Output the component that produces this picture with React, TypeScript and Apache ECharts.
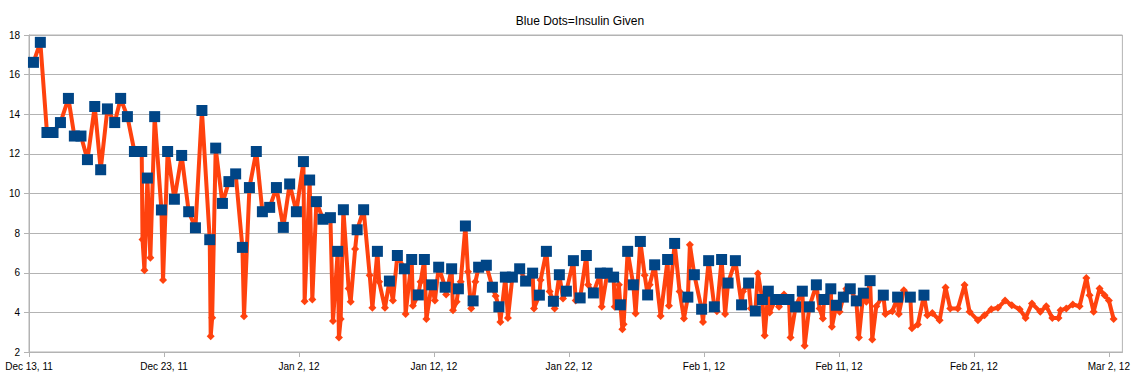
import React, { useEffect, useRef } from "react";
import * as echarts from "echarts";

// Days after Dec 13, 2011 (00:00) for each reading
const dayOffset = [
  0.33, 0.84, 1.33, 1.78, 2.33, 2.92, 3.36, 3.85, 4.33, 4.87,
  5.31, 5.81, 6.35, 6.79, 7.29, 7.81, 8.35, 8.41, 8.55, 8.77,
  8.99, 9.31, 9.81, 9.93, 10.27, 10.77, 11.31, 11.83, 12.33, 12.81,
  13.39, 13.46, 13.57, 13.83, 14.33, 14.81, 15.31, 15.81, 15.93, 16.33,
  16.84, 17.29, 17.83, 18.33, 18.84, 19.31, 19.81, 20.33, 20.42, 20.79,
  20.99, 21.29, 21.78, 22.33, 22.52, 22.87, 22.96, 23.09, 23.29, 23.68,
  23.83, 24.16, 24.31, 24.79, 25.24, 25.44, 25.81, 25.94, 26.37, 26.7,
  26.96, 27.29, 27.81, 27.9, 28.35, 28.44, 28.84, 29.01, 29.29, 29.44,
  29.83, 30.07, 30.35, 30.83, 30.9, 31.31, 31.41, 31.68, 31.81, 31.98,
  32.33, 32.52, 32.76, 32.9, 33.07, 33.31, 33.88, 34.33, 34.57, 34.81,
  34.92, 35.29, 35.48, 35.81, 36.35, 36.79, 37.31, 37.41, 37.81, 37.9,
  38.33, 38.57, 38.85, 38.94, 39.29, 39.56, 39.81, 40.33, 40.5, 40.83,
  41.29, 41.42, 41.81, 42.33, 42.43, 42.84, 43.31, 43.39, 43.7, 43.81,
  43.96, 44.05, 44.35, 44.77, 44.94, 45.29, 45.61, 45.83, 45.98, 46.35,
  46.79, 47.31, 47.41, 47.83, 48.2, 48.52, 48.81, 48.96, 49.29, 49.83,
  49.93, 50.35, 50.77, 50.96, 51.31, 51.57, 51.79, 52.33, 52.79, 52.89,
  53.31, 53.48, 53.81, 54.0, 54.33, 54.5, 54.77, 54.87, 55.31, 55.56,
  55.78, 55.93, 56.3, 56.42, 56.79, 57.29, 57.46, 57.81, 58.33, 58.57,
  58.81, 58.9, 59.4, 59.48, 59.81, 60.05, 60.33, 60.55, 60.84, 61.29,
  61.48, 61.81, 62.03, 62.31, 62.47, 62.77, 63.29, 63.44, 63.96, 64.35,
  64.44, 64.81, 65.29, 65.41, 65.85, 66.3, 66.55, 66.92, 67.46, 67.9,
  68.25, 68.81, 69.31, 69.68, 70.3, 70.79, 71.29, 71.78, 72.31, 72.81,
  73.39, 73.83, 74.3, 74.92, 75.36, 75.81, 76.27, 76.42, 76.84, 77.33,
  77.83, 78.33, 78.57, 78.87, 79.31, 79.68, 80.0, 80.35,
];

// Blood glucose readings
const glucose = [
  16.62, 17.63, 13.08, 13.08, 13.58, 14.8, 12.9, 12.9, 11.71, 14.39,
  11.2, 14.27, 13.58, 14.8, 13.88, 12.12, 12.12, 7.68, 6.13, 10.78,
  6.76, 13.88, 9.17, 5.63, 12.12, 9.71, 11.92, 9.08, 8.27, 14.19,
  7.67, 2.79, 3.73, 12.29, 9.5, 10.6, 10.99, 7.28, 3.81, 10.3,
  12.12, 9.08, 9.3, 10.3, 8.29, 10.48, 9.08, 11.61, 4.56, 10.68,
  4.65, 9.59, 8.7, 8.78, 3.56, 7.08, 2.73, 3.66, 9.18, 5.2,
  4.53, 7.2, 8.17, 9.18, 5.88, 4.23, 7.08, 5.54, 4.23, 5.58,
  4.6, 6.87, 6.2, 3.92, 6.67, 4.33, 4.88, 5.54, 6.67, 3.66,
  5.39, 4.6, 6.28, 5.27, 4.9, 6.2, 4.11, 4.53, 5.19, 5.54,
  8.36, 6.05, 4.19, 4.58, 5.54, 6.28, 6.38, 5.27, 4.83, 4.28,
  3.52, 5.78, 3.72, 5.78, 6.2, 5.58, 5.98, 4.19, 4.87, 5.63,
  7.08, 5.05, 4.56, 4.19, 5.9, 4.7, 5.07, 6.61, 4.6, 4.73,
  6.87, 5.39, 4.98, 5.98, 4.28, 5.98, 5.78, 4.28, 5.39, 4.38,
  3.15, 3.4, 7.08, 5.39, 3.94, 7.58, 5.88, 4.88, 5.39, 6.4,
  3.82, 6.67, 4.33, 7.48, 5.05, 3.69, 4.77, 7.41, 5.9, 4.16,
  3.52, 6.61, 4.28, 4.06, 6.67, 3.92, 5.48, 6.61, 4.38, 5.05,
  5.48, 4.19, 4.07, 5.96, 4.65, 2.83, 5.07, 4.0, 4.65, 4.28,
  4.65, 4.9, 4.65, 2.73, 4.28, 5.07, 2.31, 4.28, 5.39, 4.2,
  3.69, 4.65, 5.19, 3.27, 4.36, 4.03, 4.77, 5.19, 5.19, 4.58,
  2.73, 4.97, 4.53, 5.6, 2.63, 4.31, 4.87, 3.92, 4.06, 4.77,
  3.92, 5.12, 4.77, 3.2, 3.39, 4.87, 3.86, 3.97, 3.6, 5.26,
  4.19, 4.19, 5.38, 4.03, 3.6, 3.86, 4.16, 4.23, 4.6, 4.36,
  4.16, 3.72, 4.45, 4.03, 4.31, 3.72, 3.72, 4.11, 4.19, 4.4,
  4.31, 5.74, 4.87, 4.03, 5.2, 4.87, 4.6, 3.66,
];

// 1 = insulin given at this reading (blue dot)
const insulinGiven = [
  1, 1, 1, 1, 1, 1, 1, 1, 1, 1,
  1, 1, 1, 1, 1, 1, 1, 0, 0, 1,
  0, 1, 1, 0, 1, 1, 1, 1, 1, 1,
  1, 0, 0, 1, 1, 1, 1, 1, 0, 1,
  1, 1, 1, 1, 1, 1, 1, 1, 0, 1,
  0, 1, 1, 1, 0, 1, 0, 0, 1, 0,
  0, 0, 1, 1, 0, 0, 1, 0, 0, 1,
  0, 1, 1, 0, 1, 0, 1, 0, 1, 0,
  1, 0, 1, 1, 0, 1, 0, 0, 1, 0,
  1, 0, 0, 1, 0, 1, 1, 1, 0, 1,
  0, 1, 0, 1, 1, 1, 1, 0, 1, 0,
  1, 0, 1, 0, 1, 0, 1, 1, 0, 1,
  1, 0, 1, 1, 0, 1, 1, 0, 0, 1,
  0, 0, 1, 1, 0, 1, 0, 1, 0, 1,
  0, 1, 0, 1, 0, 0, 1, 0, 1, 1,
  0, 1, 1, 0, 1, 0, 1, 1, 1, 0,
  1, 0, 1, 0, 1, 0, 1, 0, 1, 0,
  1, 0, 1, 0, 1, 1, 0, 1, 1, 0,
  0, 1, 1, 0, 1, 0, 1, 0, 1, 1,
  0, 1, 0, 1, 0, 0, 1, 0, 0, 1,
  0, 0, 1, 0, 0, 1, 0, 0, 0, 0,
  0, 0, 0, 0, 0, 0, 0, 0, 0, 0,
  0, 0, 0, 0, 0, 0, 0, 0, 0, 0,
  0, 0, 0, 0, 0, 0, 0, 0,
];

const titleText = "Blue Dots=Insulin Given";
const monthNames = ["Jan", "Feb", "Mar", "Apr", "May", "Jun", "Jul", "Aug", "Sep", "Oct", "Nov", "Dec"];
const startYear = 2011;
const startMonth = 11; // December
const startDay = 13;
const xMin = 0;
const xMax = 81;
const xStep = 10;
const yMin = 2;
const yMax = 18;
const yStep = 2;

function dayLabel(v: number): string {
  if (Math.abs(v - Math.round(v / xStep) * xStep) > 1e-6) return "";
  const d = new Date(startYear, startMonth, startDay + Math.round(v));
  const yy = String(d.getFullYear() % 100).padStart(2, "0");
  return `${monthNames[d.getMonth()]} ${d.getDate()}, ${yy}`;
}

export default function App() {
  const ref = useRef<HTMLDivElement>(null);
  useEffect(() => {
    document.body.style.margin = "0";
    if (!ref.current) return;
    const chart = echarts.init(ref.current, undefined, { renderer: "svg" });
    const lineData = dayOffset.map((d, i) => [d, glucose[i]]);
    const dotData = dayOffset
      .map((d, i) => (insulinGiven[i] ? [d, glucose[i]] : null))
      .filter((p) => p !== null);
    const font = "'Liberation Sans', Arial, sans-serif";
    chart.setOption({
      animation: false,
      backgroundColor: "#ffffff",
      title: {
        text: titleText,
        left: 575,
        top: 10,
        textAlign: "center",
        textStyle: { fontFamily: font, fontSize: 12, fontWeight: "normal", color: "#000000" },
      },
      grid: {
        left: 29,
        right: 10,
        top: 35,
        bottom: 28,
        show: true,
        borderColor: "#b3b3b3",
        borderWidth: 1,
        backgroundColor: "transparent",
      },
      xAxis: {
        type: "value",
        min: xMin,
        max: xMax,
        interval: xStep,
        axisLine: { show: true, lineStyle: { color: "#b3b3b3" } },
        axisTick: { show: true, length: 5, lineStyle: { color: "#b3b3b3" } },
        splitLine: { show: false },
        axisLabel: {
          formatter: dayLabel,
          fontFamily: font,
          fontSize: 10,
          color: "#000000",
          margin: 9,
          showMaxLabel: false,
        },
      },
      yAxis: {
        type: "value",
        min: yMin,
        max: yMax,
        interval: yStep,
        axisLine: { show: true, lineStyle: { color: "#b3b3b3" } },
        axisTick: { show: true, length: 5, lineStyle: { color: "#b3b3b3" } },
        splitLine: { show: true, lineStyle: { color: "#b3b3b3", width: 1 } },
        axisLabel: { fontFamily: font, fontSize: 10, color: "#000000", margin: 9 },
      },
      series: [
        {
          name: "Glucose",
          type: "line",
          data: lineData,
          showAllSymbol: true,
          symbol: "diamond",
          symbolSize: 8,
          itemStyle: { color: "#ff420e", opacity: 1 },
          lineStyle: { color: "#ff420e", width: 4 },
          z: 2,
        },
        {
          name: "Insulin Given",
          type: "scatter",
          data: dotData,
          symbol: "rect",
          symbolSize: 11,
          itemStyle: { color: "#004586", opacity: 1, borderWidth: 0 },
          z: 3,
        },
      ],
    });
    return () => chart.dispose();
  }, []);
  return <div ref={ref} style={{ width: 1133, height: 380 }} />;
}
